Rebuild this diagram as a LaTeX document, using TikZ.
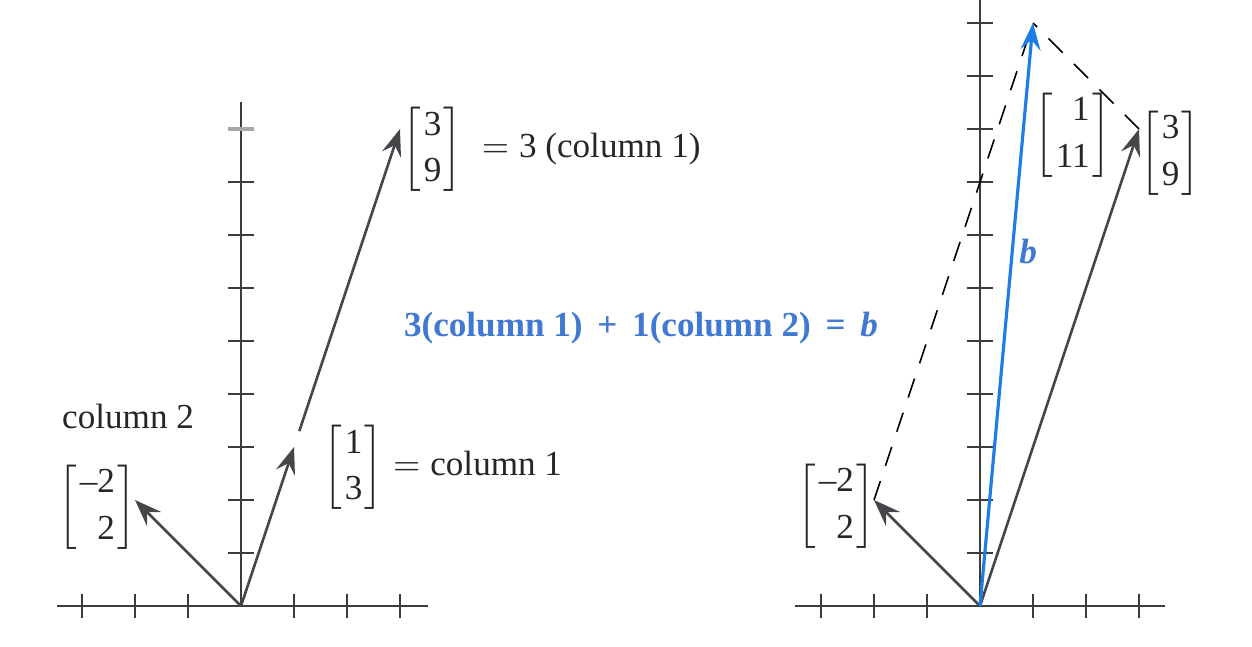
\documentclass[tikz,border=0pt]{standalone}
\usepackage{mathtools}
\usepackage{fontspec}
\setmainfont{Liberation Serif}
\usetikzlibrary{arrows.meta}

\definecolor{vecgray}{RGB}{70,70,74}
\definecolor{axisgray}{RGB}{60,60,60}
\definecolor{textblue}{RGB}{64,120,210}
\definecolor{arrowblue}{RGB}{30,125,228}

\newcommand{\colvec}[2]{{\renewcommand{\arraystretch}{1.1}\begin{bmatrix*}[r]\hspace{0.7pt}\text{#1}\hspace{0.7pt}\\\hspace{0.7pt}\text{#2}\hspace{0.7pt}\end{bmatrix*}}}

\tikzset{
	axisline/.style={axisgray, line width=0.45pt},
	tickmark/.style={axisgray, line width=0.45pt},
	vec/.style={vecgray, line width=0.75pt, -{Stealth[length=2.7mm, width=2.0mm, inset=1.0mm]}},
	bvec/.style={arrowblue, line width=0.9pt, -{Stealth[length=2.7mm, width=2.0mm, inset=1.0mm]}},
	guide/.style={black, line width=0.45pt, dash pattern=on 2.0mm off 1.6mm},
	label/.style={inner sep=0pt, text=black!85},
}

\begin{document}
\begin{tikzpicture}[x=1cm, y=1cm]

		\useasboundingbox (0,0) rectangle (12.52,6.46);

		% left plot
		\begin{scope}[shift={(2.41cm,0.40cm)}, x=0.53cm, y=0.53cm]

			% axes
			\coordinate (lo) at (0,0);
			\coordinate (lxmin) at (-3.47,0);
			\coordinate (lxmax) at (3.53,0);
			\coordinate (lymax) at (0,9.51);
			\draw [axisline] (lxmin) -- (lxmax);
			\draw [axisline] (lo) -- (lymax);
			\foreach \x in {-3,-2,-1,1,2,3}
				\draw [tickmark] (\x,-0.23) -- (\x,0.23);
			\foreach \y in {1,...,8}
				\draw [tickmark] (-0.25,\y) -- (0.25,\y);
			\draw [gray!70, line width=1.2pt] (-0.25,9) -- (0.25,9);

			% vectors
			\coordinate (lc1) at (1,3);
			\coordinate (lc2) at (-2,2);
			\coordinate (lc3) at (3,9);
			\coordinate (lgap) at (1.1,3.3);
			\draw [vec] (lo) -- (lc2);
			\draw [vec] (lo) -- (lc1);
			\draw [vec] (lgap) -- (lc3);

			% labels
			\node [label] (lcol2) at (-2.13,3.58) {column 2};
			\node [label, anchor=west] (lm2) at (-3.45,1.87) {$\colvec{–2}{2}$};
			\node [label, anchor=west] (lm1) at (1.55,2.62) {$\colvec{1}{3}=\text{column 1}$};
			\node [label, anchor=west] (lm3) at (3.04,8.62) {$\colvec{3}{9}\;=\text{3 (column 1)}$};

		\end{scope}

		% right plot
		\begin{scope}[shift={(9.80cm,0.40cm)}, x=0.53cm, y=0.53cm]

			% axes
			\coordinate (ro) at (0,0);
			\coordinate (rxmin) at (-3.49,0);
			\coordinate (rxmax) at (3.49,0);
			\coordinate (rymax) at (0,11.45);
			\draw [axisline] (rxmin) -- (rxmax);
			\draw [axisline] (ro) -- (rymax);
			\foreach \x in {-3,-2,-1,1,2,3}
				\draw [tickmark] (\x,-0.23) -- (\x,0.23);
			\foreach \y in {1,...,11}
				\draw [tickmark] (-0.25,\y) -- (0.25,\y);

			% vectors
			\coordinate (rc2) at (-2,2);
			\coordinate (rc3) at (3,9);
			\coordinate (rb) at (1,11);
			\draw [guide] (rc2) -- (rb);
			\draw [guide] (rc3) -- (rb);
			\draw [vec] (ro) -- (rc2);
			\draw [vec] (ro) -- (rc3);
			\draw [bvec] (ro) -- (rb);

			% labels
			\node [label, anchor=west] (rm2) at (-3.45,1.89) {$\colvec{–2}{2}$};
			\node [label, anchor=west] (rmb) at (1.02,8.89) {$\colvec{1}{11}$};
			\node [label, anchor=west] (rm3) at (3.02,8.55) {$\colvec{3}{9}$};
			\node [inner sep=0pt, text=textblue, font=\bfseries\itshape] (rbl) at (0.91,6.68) {b};

		\end{scope}

		% combination
		\node [inner sep=0pt, text=textblue, font=\bfseries] (combo) at (6.41,3.18)
			{3(column 1)\hspace{0.42em}+\hspace{0.42em}1(column 2)\hspace{0.42em}=\hspace{0.42em}\textit{b}};

\end{tikzpicture}
\end{document}
